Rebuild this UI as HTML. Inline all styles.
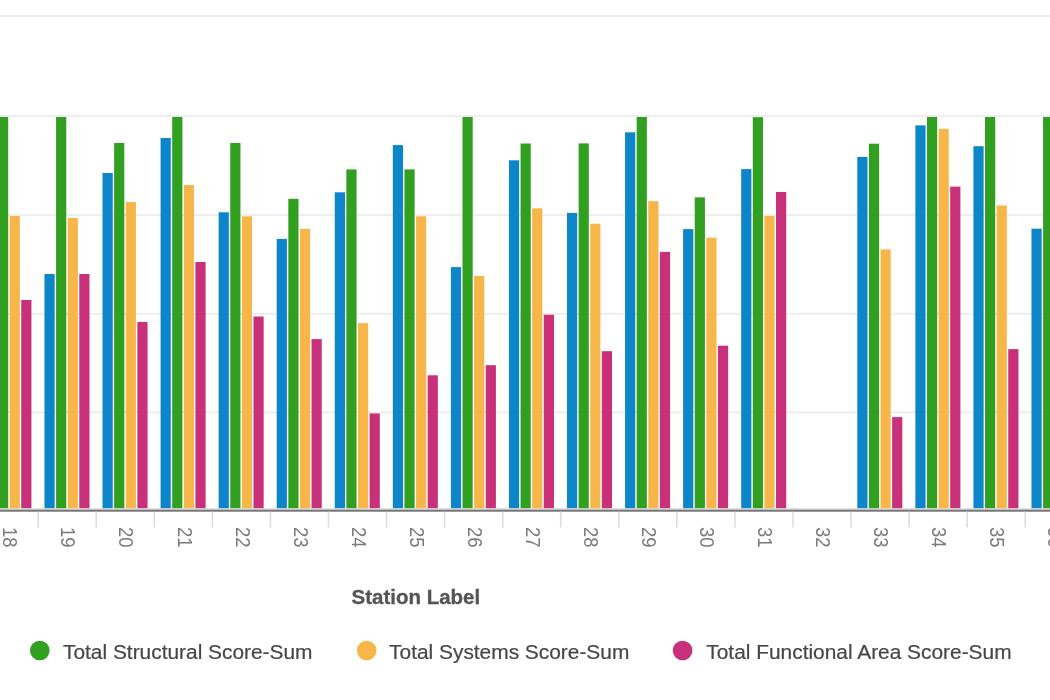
<!DOCTYPE html>
<html><head><meta charset="utf-8"><style>
html,body{margin:0;padding:0;background:#fff;}
body{width:1050px;height:700px;overflow:hidden;position:relative;font-family:"Liberation Sans",sans-serif;}
svg{position:absolute;left:0;top:0;filter:blur(0.7px);}
text{font-family:"Liberation Sans",sans-serif;}
</style></head><body>
<svg width="1050" height="700" viewBox="0 0 1050 700">
<rect x="0" y="15.20" width="1050" height="1.7" fill="#ebebeb"/>
<rect x="0" y="115.20" width="1050" height="1.7" fill="#ebebeb"/>
<rect x="0" y="214.20" width="1050" height="1.7" fill="#ebebeb"/>
<rect x="0" y="312.90" width="1050" height="1.7" fill="#ebebeb"/>
<rect x="0" y="411.50" width="1050" height="1.7" fill="#ebebeb"/>
<rect x="-1.99" y="117.00" width="10.2" height="391.40" fill="#31a021"/>
<rect x="9.62" y="216.00" width="10.2" height="292.40" fill="#f6b64a"/>
<rect x="21.23" y="300.00" width="10.2" height="208.40" fill="#c8307a"/>
<rect x="44.46" y="274.00" width="10.2" height="234.40" fill="#0c86c8"/>
<rect x="56.07" y="117.00" width="10.2" height="391.40" fill="#31a021"/>
<rect x="67.68" y="218.00" width="10.2" height="290.40" fill="#f6b64a"/>
<rect x="79.29" y="274.00" width="10.2" height="234.40" fill="#c8307a"/>
<rect x="102.52" y="173.00" width="10.2" height="335.40" fill="#0c86c8"/>
<rect x="114.13" y="143.00" width="10.2" height="365.40" fill="#31a021"/>
<rect x="125.74" y="202.00" width="10.2" height="306.40" fill="#f6b64a"/>
<rect x="137.35" y="322.00" width="10.2" height="186.40" fill="#c8307a"/>
<rect x="160.58" y="138.00" width="10.2" height="370.40" fill="#0c86c8"/>
<rect x="172.19" y="117.00" width="10.2" height="391.40" fill="#31a021"/>
<rect x="183.80" y="185.00" width="10.2" height="323.40" fill="#f6b64a"/>
<rect x="195.41" y="262.00" width="10.2" height="246.40" fill="#c8307a"/>
<rect x="218.64" y="212.30" width="10.2" height="296.10" fill="#0c86c8"/>
<rect x="230.25" y="143.00" width="10.2" height="365.40" fill="#31a021"/>
<rect x="241.86" y="216.30" width="10.2" height="292.10" fill="#f6b64a"/>
<rect x="253.47" y="316.50" width="10.2" height="191.90" fill="#c8307a"/>
<rect x="276.70" y="238.90" width="10.2" height="269.50" fill="#0c86c8"/>
<rect x="288.31" y="198.80" width="10.2" height="309.60" fill="#31a021"/>
<rect x="299.92" y="228.90" width="10.2" height="279.50" fill="#f6b64a"/>
<rect x="311.53" y="339.10" width="10.2" height="169.30" fill="#c8307a"/>
<rect x="334.76" y="192.30" width="10.2" height="316.10" fill="#0c86c8"/>
<rect x="346.37" y="169.40" width="10.2" height="339.00" fill="#31a021"/>
<rect x="357.98" y="323.20" width="10.2" height="185.20" fill="#f6b64a"/>
<rect x="369.59" y="413.40" width="10.2" height="95.00" fill="#c8307a"/>
<rect x="392.82" y="145.10" width="10.2" height="363.30" fill="#0c86c8"/>
<rect x="404.43" y="169.40" width="10.2" height="339.00" fill="#31a021"/>
<rect x="416.04" y="216.30" width="10.2" height="292.10" fill="#f6b64a"/>
<rect x="427.65" y="375.30" width="10.2" height="133.10" fill="#c8307a"/>
<rect x="450.88" y="267.10" width="10.2" height="241.30" fill="#0c86c8"/>
<rect x="462.49" y="117.00" width="10.2" height="391.40" fill="#31a021"/>
<rect x="474.10" y="276.00" width="10.2" height="232.40" fill="#f6b64a"/>
<rect x="485.71" y="365.20" width="10.2" height="143.20" fill="#c8307a"/>
<rect x="508.94" y="160.30" width="10.2" height="348.10" fill="#0c86c8"/>
<rect x="520.55" y="143.50" width="10.2" height="364.90" fill="#31a021"/>
<rect x="532.16" y="208.30" width="10.2" height="300.10" fill="#f6b64a"/>
<rect x="543.77" y="314.70" width="10.2" height="193.70" fill="#c8307a"/>
<rect x="567.00" y="212.90" width="10.2" height="295.50" fill="#0c86c8"/>
<rect x="578.61" y="143.40" width="10.2" height="365.00" fill="#31a021"/>
<rect x="590.22" y="223.70" width="10.2" height="284.70" fill="#f6b64a"/>
<rect x="601.83" y="351.20" width="10.2" height="157.20" fill="#c8307a"/>
<rect x="625.06" y="132.30" width="10.2" height="376.10" fill="#0c86c8"/>
<rect x="636.67" y="117.00" width="10.2" height="391.40" fill="#31a021"/>
<rect x="648.28" y="201.10" width="10.2" height="307.30" fill="#f6b64a"/>
<rect x="659.89" y="251.90" width="10.2" height="256.50" fill="#c8307a"/>
<rect x="683.12" y="229.10" width="10.2" height="279.30" fill="#0c86c8"/>
<rect x="694.73" y="197.40" width="10.2" height="311.00" fill="#31a021"/>
<rect x="706.34" y="237.70" width="10.2" height="270.70" fill="#f6b64a"/>
<rect x="717.95" y="345.70" width="10.2" height="162.70" fill="#c8307a"/>
<rect x="741.18" y="169.10" width="10.2" height="339.30" fill="#0c86c8"/>
<rect x="752.79" y="117.20" width="10.2" height="391.20" fill="#31a021"/>
<rect x="764.40" y="216.00" width="10.2" height="292.40" fill="#f6b64a"/>
<rect x="776.01" y="192.00" width="10.2" height="316.40" fill="#c8307a"/>
<rect x="857.30" y="156.90" width="10.2" height="351.50" fill="#0c86c8"/>
<rect x="868.91" y="143.70" width="10.2" height="364.70" fill="#31a021"/>
<rect x="880.52" y="249.40" width="10.2" height="259.00" fill="#f6b64a"/>
<rect x="892.13" y="417.10" width="10.2" height="91.30" fill="#c8307a"/>
<rect x="915.36" y="125.40" width="10.2" height="383.00" fill="#0c86c8"/>
<rect x="926.97" y="117.00" width="10.2" height="391.40" fill="#31a021"/>
<rect x="938.58" y="128.90" width="10.2" height="379.50" fill="#f6b64a"/>
<rect x="950.19" y="186.60" width="10.2" height="321.80" fill="#c8307a"/>
<rect x="973.42" y="146.20" width="10.2" height="362.20" fill="#0c86c8"/>
<rect x="985.03" y="117.00" width="10.2" height="391.40" fill="#31a021"/>
<rect x="996.64" y="205.50" width="10.2" height="302.90" fill="#f6b64a"/>
<rect x="1008.25" y="349.10" width="10.2" height="159.30" fill="#c8307a"/>
<rect x="1031.48" y="228.70" width="10.2" height="279.70" fill="#0c86c8"/>
<rect x="1043.09" y="117.00" width="10.2" height="391.40" fill="#31a021"/>
<rect x="0" y="508.4" width="1050" height="1.4" fill="#cdcdcd"/>
<rect x="0" y="509.8" width="1050" height="1.9" fill="#747474"/>
<rect x="37.40" y="511.7" width="1.6" height="15.8" fill="#dcdce2"/>
<rect x="95.46" y="511.7" width="1.6" height="15.8" fill="#dcdce2"/>
<rect x="153.52" y="511.7" width="1.6" height="15.8" fill="#dcdce2"/>
<rect x="211.58" y="511.7" width="1.6" height="15.8" fill="#dcdce2"/>
<rect x="269.64" y="511.7" width="1.6" height="15.8" fill="#dcdce2"/>
<rect x="327.70" y="511.7" width="1.6" height="15.8" fill="#dcdce2"/>
<rect x="385.76" y="511.7" width="1.6" height="15.8" fill="#dcdce2"/>
<rect x="443.82" y="511.7" width="1.6" height="15.8" fill="#dcdce2"/>
<rect x="501.88" y="511.7" width="1.6" height="15.8" fill="#dcdce2"/>
<rect x="559.94" y="511.7" width="1.6" height="15.8" fill="#dcdce2"/>
<rect x="618.00" y="511.7" width="1.6" height="15.8" fill="#dcdce2"/>
<rect x="676.06" y="511.7" width="1.6" height="15.8" fill="#dcdce2"/>
<rect x="734.12" y="511.7" width="1.6" height="15.8" fill="#dcdce2"/>
<rect x="792.18" y="511.7" width="1.6" height="15.8" fill="#dcdce2"/>
<rect x="850.24" y="511.7" width="1.6" height="15.8" fill="#dcdce2"/>
<rect x="908.30" y="511.7" width="1.6" height="15.8" fill="#dcdce2"/>
<rect x="966.36" y="511.7" width="1.6" height="15.8" fill="#dcdce2"/>
<rect x="1024.42" y="511.7" width="1.6" height="15.8" fill="#dcdce2"/>
<text transform="translate(3.37,527.0) scale(1.06,1) rotate(90)" font-size="18.5" fill="#7a7a7a">18</text>
<text transform="translate(61.43,527.0) scale(1.06,1) rotate(90)" font-size="18.5" fill="#7a7a7a">19</text>
<text transform="translate(119.49,527.0) scale(1.06,1) rotate(90)" font-size="18.5" fill="#7a7a7a">20</text>
<text transform="translate(177.55,527.0) scale(1.06,1) rotate(90)" font-size="18.5" fill="#7a7a7a">21</text>
<text transform="translate(235.61,527.0) scale(1.06,1) rotate(90)" font-size="18.5" fill="#7a7a7a">22</text>
<text transform="translate(293.67,527.0) scale(1.06,1) rotate(90)" font-size="18.5" fill="#7a7a7a">23</text>
<text transform="translate(351.73,527.0) scale(1.06,1) rotate(90)" font-size="18.5" fill="#7a7a7a">24</text>
<text transform="translate(409.79,527.0) scale(1.06,1) rotate(90)" font-size="18.5" fill="#7a7a7a">25</text>
<text transform="translate(467.85,527.0) scale(1.06,1) rotate(90)" font-size="18.5" fill="#7a7a7a">26</text>
<text transform="translate(525.91,527.0) scale(1.06,1) rotate(90)" font-size="18.5" fill="#7a7a7a">27</text>
<text transform="translate(583.97,527.0) scale(1.06,1) rotate(90)" font-size="18.5" fill="#7a7a7a">28</text>
<text transform="translate(642.03,527.0) scale(1.06,1) rotate(90)" font-size="18.5" fill="#7a7a7a">29</text>
<text transform="translate(700.09,527.0) scale(1.06,1) rotate(90)" font-size="18.5" fill="#7a7a7a">30</text>
<text transform="translate(758.15,527.0) scale(1.06,1) rotate(90)" font-size="18.5" fill="#7a7a7a">31</text>
<text transform="translate(816.21,527.0) scale(1.06,1) rotate(90)" font-size="18.5" fill="#7a7a7a">32</text>
<text transform="translate(874.27,527.0) scale(1.06,1) rotate(90)" font-size="18.5" fill="#7a7a7a">33</text>
<text transform="translate(932.33,527.0) scale(1.06,1) rotate(90)" font-size="18.5" fill="#7a7a7a">34</text>
<text transform="translate(990.39,527.0) scale(1.06,1) rotate(90)" font-size="18.5" fill="#7a7a7a">35</text>
<text transform="translate(1048.45,527.0) scale(1.06,1) rotate(90)" font-size="18.5" fill="#7a7a7a">36</text>
<text transform="translate(351.6,604.2) scale(1.05,1)" font-size="19.5" font-weight="bold" fill="#555" stroke="#555" stroke-width="0.3">Station Label</text>
<circle cx="39.8" cy="650.5" r="9.8" fill="#31a021"/>
<text transform="translate(63,659) scale(1.05,1)" font-size="19.9" fill="#474747" stroke="#474747" stroke-width="0.2">Total Structural Score-Sum</text>
<circle cx="366.7" cy="650.5" r="9.8" fill="#f6b64a"/>
<text transform="translate(389.1,659) scale(1.05,1)" font-size="19.9" fill="#474747" stroke="#474747" stroke-width="0.2">Total Systems Score-Sum</text>
<circle cx="682.6" cy="650.5" r="9.8" fill="#c8307a"/>
<text transform="translate(706.3,659) scale(1.05,1)" font-size="19.9" fill="#474747" stroke="#474747" stroke-width="0.2">Total Functional Area Score-Sum</text>
</svg>
</body></html>
